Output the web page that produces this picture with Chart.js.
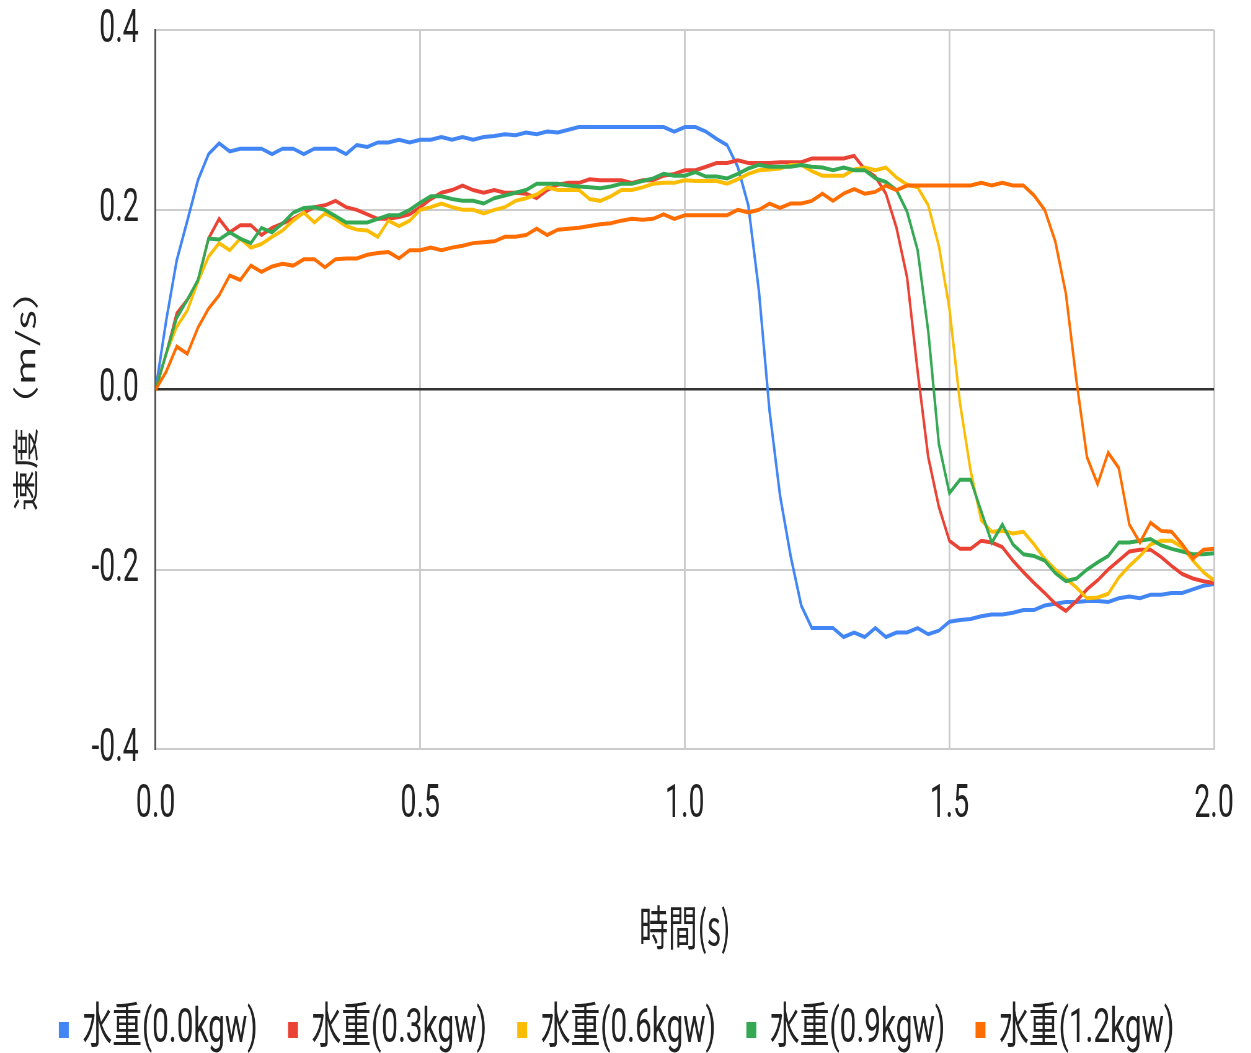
<!DOCTYPE html>
<html>
<head>
<meta charset="utf-8">
<script src="https://cdn.jsdelivr.net/npm/chart.js@4/dist/chart.umd.min.js"></script>
<style>
  html, body { margin: 0; padding: 0; background: #fff; overflow: hidden; }
  /* the reference is horizontally squeezed, so draw wide and show it narrow */
  #wrap { width: 2018px; height: 1053px; transform: scaleX(0.62); transform-origin: 0 0; }
</style>
</head>
<body>
<div id="wrap"><canvas id="c" width="2018" height="1053"></canvas></div>
<script>
var times = [
  0.00, 0.02, 0.04, 0.06, 0.08, 0.10, 0.12, 0.14, 0.16, 0.18,
  0.20, 0.22, 0.24, 0.26, 0.28, 0.30, 0.32, 0.34, 0.36, 0.38,
  0.40, 0.42, 0.44, 0.46, 0.48, 0.50, 0.52, 0.54, 0.56, 0.58,
  0.60, 0.62, 0.64, 0.66, 0.68, 0.70, 0.72, 0.74, 0.76, 0.78,
  0.80, 0.82, 0.84, 0.86, 0.88, 0.90, 0.92, 0.94, 0.96, 0.98,
  1.00, 1.02, 1.04, 1.06, 1.08, 1.10, 1.12, 1.14, 1.16, 1.18,
  1.20, 1.22, 1.24, 1.26, 1.28, 1.30, 1.32, 1.34, 1.36, 1.38,
  1.40, 1.42, 1.44, 1.46, 1.48, 1.50, 1.52, 1.54, 1.56, 1.58,
  1.60, 1.62, 1.64, 1.66, 1.68, 1.70, 1.72, 1.74, 1.76, 1.78,
  1.80, 1.82, 1.84, 1.86, 1.88, 1.90, 1.92, 1.94, 1.96, 1.98,
  2.00
];

var seriesNames = ['水重(0.0kgw)', '水重(0.3kgw)', '水重(0.6kgw)', '水重(0.9kgw)', '水重(1.2kgw)'];

var w00 = [
  0, 0.077, 0.144, 0.188, 0.233, 0.262, 0.274, 0.265, 0.268, 0.268,
  0.268, 0.262, 0.268, 0.268, 0.262, 0.268, 0.268, 0.268, 0.262, 0.272,
  0.270, 0.275, 0.275, 0.278, 0.275, 0.278, 0.278, 0.281, 0.278, 0.281,
  0.278, 0.281, 0.282, 0.284, 0.283, 0.286, 0.284, 0.287, 0.286, 0.289,
  0.292, 0.292, 0.292, 0.292, 0.292, 0.292, 0.292, 0.292, 0.292, 0.287,
  0.292, 0.292, 0.287, 0.279, 0.272, 0.248, 0.205, 0.110, -0.023, -0.118,
  -0.185, -0.240, -0.265, -0.265, -0.265, -0.275, -0.270, -0.275, -0.265, -0.275,
  -0.270, -0.270, -0.265, -0.272, -0.268, -0.258, -0.256, -0.255, -0.252, -0.250,
  -0.250, -0.248, -0.245, -0.245, -0.240, -0.238, -0.236, -0.236, -0.235, -0.235,
  -0.236, -0.232, -0.230, -0.232, -0.228, -0.228, -0.226, -0.226, -0.222, -0.218,
  -0.216
];

var w03 = [
  0, 0.040, 0.085, 0.100, 0.120, 0.168, 0.190, 0.175, 0.183, 0.183,
  0.172, 0.180, 0.185, 0.190, 0.197, 0.203, 0.205, 0.210, 0.203, 0.200,
  0.195, 0.190, 0.190, 0.192, 0.195, 0.203, 0.212, 0.219, 0.222, 0.227,
  0.222, 0.219, 0.222, 0.219, 0.219, 0.218, 0.213, 0.222, 0.228, 0.230,
  0.230, 0.234, 0.233, 0.233, 0.233, 0.230, 0.233, 0.233, 0.238, 0.240,
  0.244, 0.244, 0.248, 0.252, 0.252, 0.255, 0.252, 0.252, 0.252, 0.253,
  0.253, 0.253, 0.257, 0.257, 0.257, 0.257, 0.260, 0.245, 0.237, 0.218,
  0.180, 0.125, 0.020, -0.075, -0.130, -0.168, -0.177, -0.177, -0.168, -0.170,
  -0.175, -0.190, -0.203, -0.215, -0.226, -0.238, -0.246, -0.235, -0.222, -0.212,
  -0.200, -0.190, -0.180, -0.178, -0.178, -0.186, -0.196, -0.205, -0.210, -0.213,
  -0.215
];

var w06 = [
  0, 0.040, 0.070, 0.088, 0.120, 0.148, 0.163, 0.155, 0.168, 0.158,
  0.162, 0.170, 0.177, 0.188, 0.197, 0.186, 0.196, 0.190, 0.182, 0.178,
  0.177, 0.170, 0.188, 0.182, 0.188, 0.200, 0.203, 0.207, 0.203, 0.200,
  0.200, 0.196, 0.200, 0.203, 0.210, 0.213, 0.217, 0.225, 0.222, 0.222,
  0.222, 0.212, 0.210, 0.215, 0.222, 0.222, 0.225, 0.229, 0.230, 0.230,
  0.233, 0.232, 0.232, 0.232, 0.229, 0.234, 0.240, 0.244, 0.245, 0.246,
  0.250, 0.250, 0.243, 0.238, 0.238, 0.238, 0.245, 0.247, 0.244, 0.247,
  0.236, 0.228, 0.225, 0.205, 0.160, 0.090, -0.015, -0.090, -0.145, -0.158,
  -0.157, -0.160, -0.158, -0.172, -0.188, -0.200, -0.210, -0.220, -0.232, -0.231,
  -0.227, -0.209, -0.196, -0.185, -0.172, -0.168, -0.168, -0.175, -0.190, -0.203,
  -0.212
];

var w09 = [
  0, 0.040, 0.080, 0.100, 0.122, 0.168, 0.167, 0.175, 0.168, 0.163,
  0.180, 0.175, 0.185, 0.197, 0.202, 0.203, 0.200, 0.193, 0.186, 0.186,
  0.186, 0.190, 0.194, 0.194, 0.200, 0.208, 0.215, 0.215, 0.212, 0.210,
  0.210, 0.207, 0.213, 0.216, 0.219, 0.222, 0.229, 0.229, 0.229, 0.227,
  0.226, 0.225, 0.224, 0.226, 0.229, 0.229, 0.232, 0.235, 0.240, 0.238,
  0.238, 0.242, 0.237, 0.237, 0.235, 0.240, 0.246, 0.250, 0.248, 0.248,
  0.248, 0.250, 0.248, 0.247, 0.244, 0.247, 0.244, 0.244, 0.235, 0.231,
  0.222, 0.198, 0.155, 0.065, -0.060, -0.115, -0.100, -0.100, -0.135, -0.170,
  -0.150, -0.172, -0.183, -0.185, -0.190, -0.204, -0.213, -0.210, -0.200, -0.192,
  -0.185, -0.170, -0.170, -0.168, -0.166, -0.173, -0.177, -0.180, -0.183, -0.183,
  -0.182
];

var w12 = [
  0, 0.020, 0.048, 0.040, 0.069, 0.090, 0.105, 0.127, 0.122, 0.138,
  0.131, 0.137, 0.140, 0.138, 0.145, 0.145, 0.136, 0.145, 0.146, 0.146,
  0.150, 0.152, 0.153, 0.146, 0.155, 0.155, 0.158, 0.155, 0.158, 0.160,
  0.163, 0.164, 0.165, 0.170, 0.170, 0.172, 0.179, 0.172, 0.178, 0.179,
  0.180, 0.182, 0.184, 0.185, 0.188, 0.190, 0.189, 0.190, 0.195, 0.190,
  0.194, 0.194, 0.194, 0.194, 0.194, 0.200, 0.197, 0.200, 0.207, 0.202,
  0.207, 0.207, 0.210, 0.218, 0.210, 0.218, 0.223, 0.218, 0.220, 0.227,
  0.222, 0.227, 0.227, 0.227, 0.227, 0.227, 0.227, 0.227, 0.230, 0.227,
  0.230, 0.227, 0.227, 0.216, 0.200, 0.165, 0.107, 0.010, -0.075, -0.105,
  -0.070, -0.087, -0.150, -0.170, -0.148, -0.157, -0.158, -0.172, -0.188, -0.178,
  -0.177
];

var colors = ['#4285f4', '#ea4335', '#fbbc04', '#34a853', '#ff6d01'];

var yTicks = [-0.4, -0.2, 0.0, 0.2, 0.4];
var xTicks = [0.0, 0.5, 1.0, 1.5, 2.0];

function pts(vals) {
  return vals.map(function (v, i) { return {x: times[i], y: v}; });
}

var allSeries = [w00, w03, w06, w09, w12];
var datasets = [];
for (var i = 0; i < allSeries.length; i++) {
  datasets.push({
    label: seriesNames[i],
    data: pts(allSeries[i]),
    borderColor: colors[i],
    backgroundColor: colors[i],
    borderWidth: 4,
    pointRadius: 0,
    tension: 0,
    fill: false,
    order: allSeries.length - i   // later series drawn on top
  });
}

var ctx = document.getElementById('c').getContext('2d');
var fontLatin = "Roboto, 'Noto Sans CJK JP', sans-serif";
var fontCJK = "'Noto Sans CJK JP', Roboto, sans-serif";

var myChart = new Chart(ctx, {
  type: 'line',
  data: { datasets: datasets },
  options: {
    responsive: false,
    devicePixelRatio: 1,
    animation: false,
    layout: { padding: { left: 0, right: 27, top: 30, bottom: -11 } },
    plugins: {
      tooltip: { enabled: false },
      legend: {
        position: 'bottom',
        labels: {
          boxWidth: 12,
          boxHeight: 12,
          padding: 51,
          color: '#222',
          font: { family: fontLatin, size: 48 },
          sort: function (a, b) { return a.datasetIndex - b.datasetIndex; }
        }
      }
    },
    scales: {
      x: {
        type: 'linear',
        min: 0,
        max: 2,
        afterBuildTicks: function (axis) {
          axis.ticks = xTicks.map(function (v) { return {value: v}; });
        },
        ticks: {
          padding: 28,
          color: '#222',
          font: { family: fontLatin, size: 46 },
          maxRotation: 0,
          callback: function (v) { return v.toFixed(1); }
        },
        grid: { color: '#cccccc', lineWidth: 3, drawTicks: false },
        border: { display: true, color: '#cccccc', width: 2 },
        title: {
          display: true,
          text: '時間(s)',
          color: '#222',
          font: { family: fontCJK, size: 47 },
          padding: { top: 38, bottom: 0 }
        }
      },
      y: {
        min: -0.4,
        max: 0.4,
        afterBuildTicks: function (axis) {
          axis.ticks = yTicks.map(function (v) { return {value: v}; });
        },
        // top label may hang over the plot edge, like the reference
        afterFit: function (axis) {
          axis.paddingTop = 0;
          axis.paddingBottom = 0;
        },
        ticks: {
          padding: 27,
          color: '#222',
          font: { family: fontLatin, size: 46 },
          callback: function (v) { return v.toFixed(1); }
        },
        grid: {
          drawTicks: false,
          color: function (c) { return c.tick && Math.abs(c.tick.value) < 1e-9 ? '#333333' : '#cccccc'; },
          lineWidth: function (c) { return c.tick && Math.abs(c.tick.value) < 1e-9 ? 2.5 : 2; }
        },
        border: { display: true, color: '#555555', width: 3 },
        title: {
          display: true,
          text: '速度（m/s）',
          color: '#222',
          font: { family: fontCJK, size: 42 },
          padding: { top: 16, bottom: 54 }
        }
      }
    }
  }
});
</script>
</body>
</html>
